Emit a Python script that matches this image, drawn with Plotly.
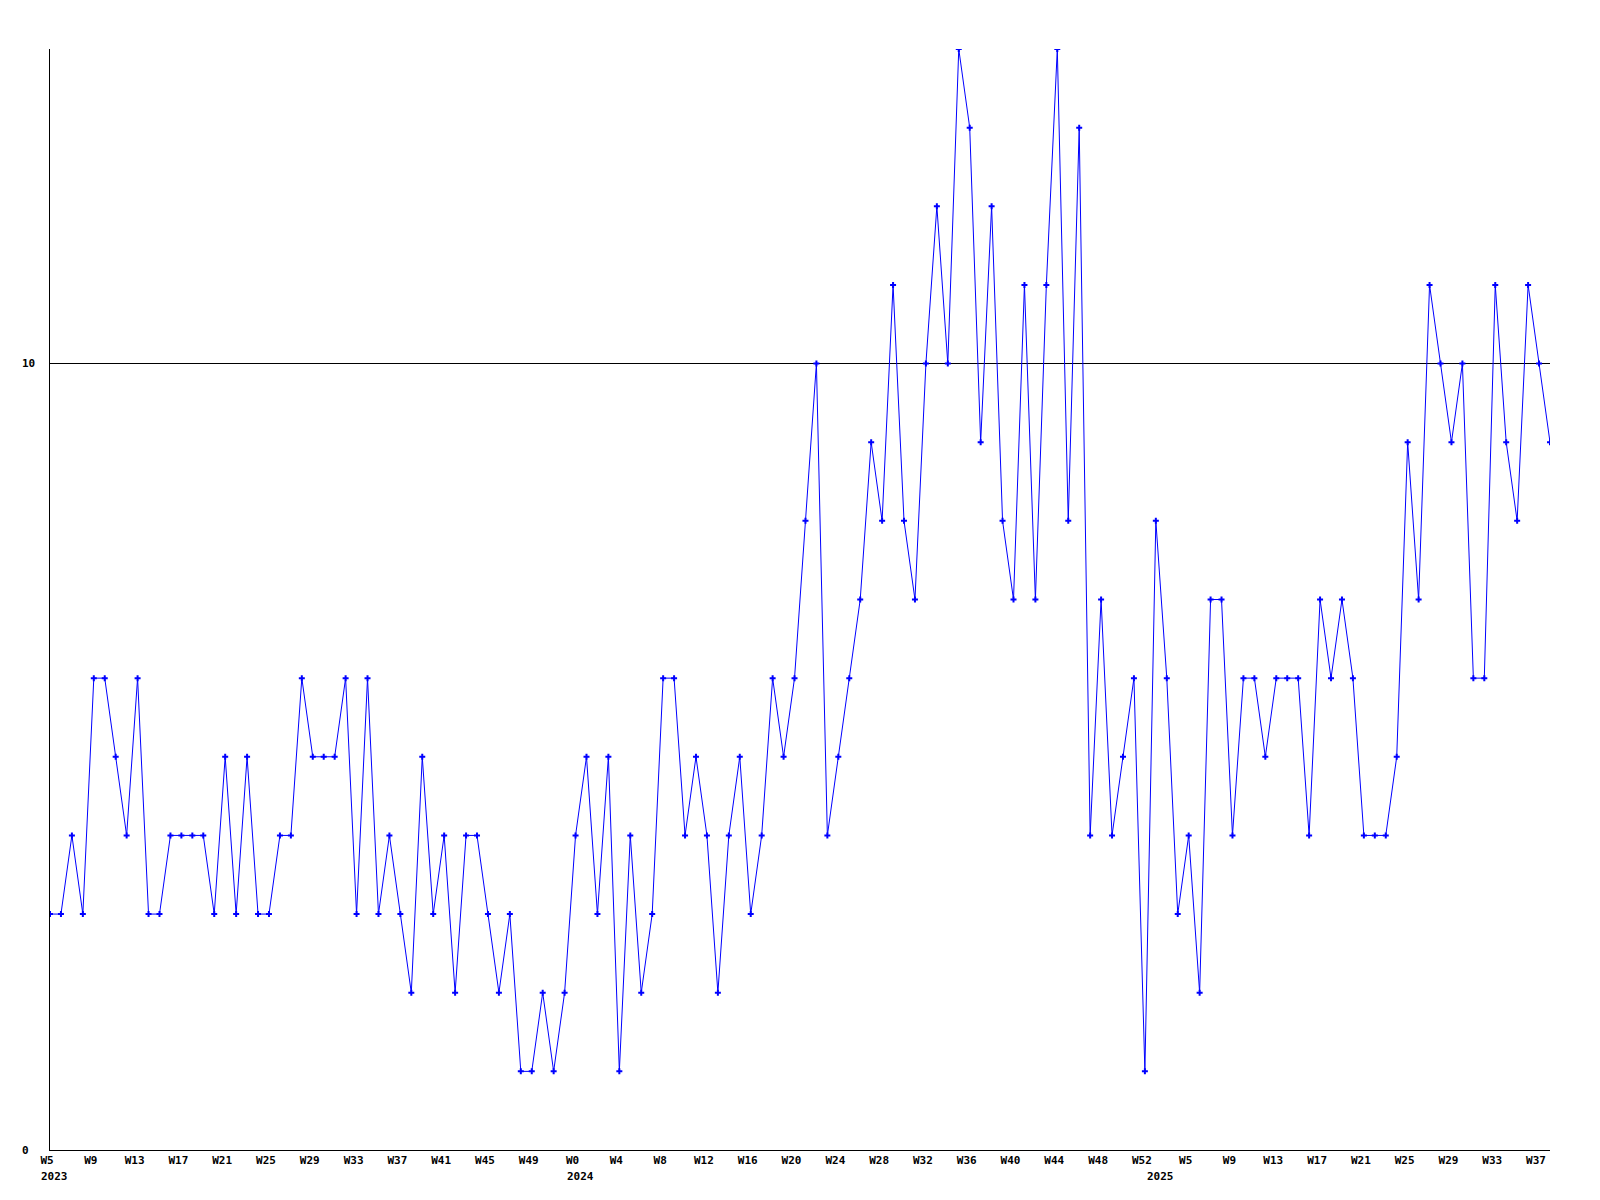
import plotly.graph_objects as go

# Weekly values, 2023 W5 .. 2025 W38 (138 weeks)
values = [
    3, 3, 4, 3, 6, 6, 5, 4, 6, 3, 3, 4, 4, 4, 4, 3, 5, 3, 5, 3, 3, 4, 4, 6,
    5, 5, 5, 6, 3, 6, 3, 4, 3, 2, 5, 3, 4, 2, 4, 4, 3, 2, 3, 1, 1, 2, 1, 2,
    4, 5, 3, 5, 1, 4, 2, 3, 6, 6, 4, 5, 4, 2, 4, 5, 3, 4, 6, 5, 6,
    8, 10, 4, 5, 6, 7, 9, 8, 11, 8, 7, 10, 12, 10, 14, 13, 9, 12, 8, 7, 11, 7, 11, 14, 8, 13,
    4, 7, 4, 5, 6, 1, 8, 6, 3, 4, 2, 7, 7, 4, 6, 6, 5, 6, 6, 6, 4, 7, 6, 7,
    6, 4, 4, 4, 5, 9, 7, 11, 10, 9, 10, 6, 6, 11, 9, 8, 11, 10, 9,
]
week_index = list(range(len(values)))

# X tick labels (every 4th week)
tick_labels = (
    ["W5", "W9", "W13", "W17", "W21", "W25", "W29", "W33", "W37", "W41", "W45", "W49"]
    + ["W0", "W4", "W8", "W12", "W16", "W20", "W24", "W28", "W32", "W36", "W40", "W44", "W48", "W52"]
    + ["W5", "W9", "W13", "W17", "W21", "W25", "W29", "W33", "W37"]
)
tick_positions = [4 * i for i in range(len(tick_labels))]

year_labels = ["2023", "2024", "2025"]
year_positions = [0, 48, 101]

y_tick_values = [0, 10]
y_tick_labels = ["0", "10"]

FONT = dict(family="DejaVu Sans Mono", size=11, color="black")
BLUE = "#0000ff"

fig = go.Figure()
fig.add_trace(go.Scatter(
    x=week_index, y=values, mode="lines+markers",
    line=dict(color=BLUE, width=1),
    marker=dict(color=BLUE, size=5, symbol="cross"),
    showlegend=False, hoverinfo="x+y",
))

annotations = []
for yr, pos in zip(year_labels, year_positions):
    annotations.append(dict(
        x=pos, xref="x", y=0, yref="paper", text="<b>%s</b>" % yr,
        showarrow=False, xanchor="left", yanchor="top", xshift=-11, yshift=-18,
        font=FONT,
    ))
for val, lab in zip(y_tick_values, y_tick_labels):
    annotations.append(dict(
        x=0, xref="paper", y=val, yref="y", text="<b>%s</b>" % lab,
        showarrow=False, xanchor="left", yanchor="middle", xshift=-30,
        font=FONT,
    ))

fig.update_layout(
    width=1600, height=1200,
    margin=dict(l=42, r=58, t=41, b=58),
    paper_bgcolor="white", plot_bgcolor="white",
    font=FONT,
    annotations=annotations,
    xaxis=dict(
        range=[0, len(values) - 1],
        tickvals=tick_positions,
        ticktext=["<b>%s</b>" % t for t in tick_labels],
        ticklabelshift=-3,
        ticks="", showgrid=False, zeroline=False,
        showline=True, linecolor="black", linewidth=1,
        tickfont=FONT,
    ),
    yaxis=dict(
        range=[0, 14],
        tickvals=y_tick_values,
        showticklabels=False,
        ticks="", showgrid=True, gridcolor="black", gridwidth=1,
        zeroline=False,
        showline=True, linecolor="black", linewidth=1,
    ),
)

fig.write_html("out.html")
